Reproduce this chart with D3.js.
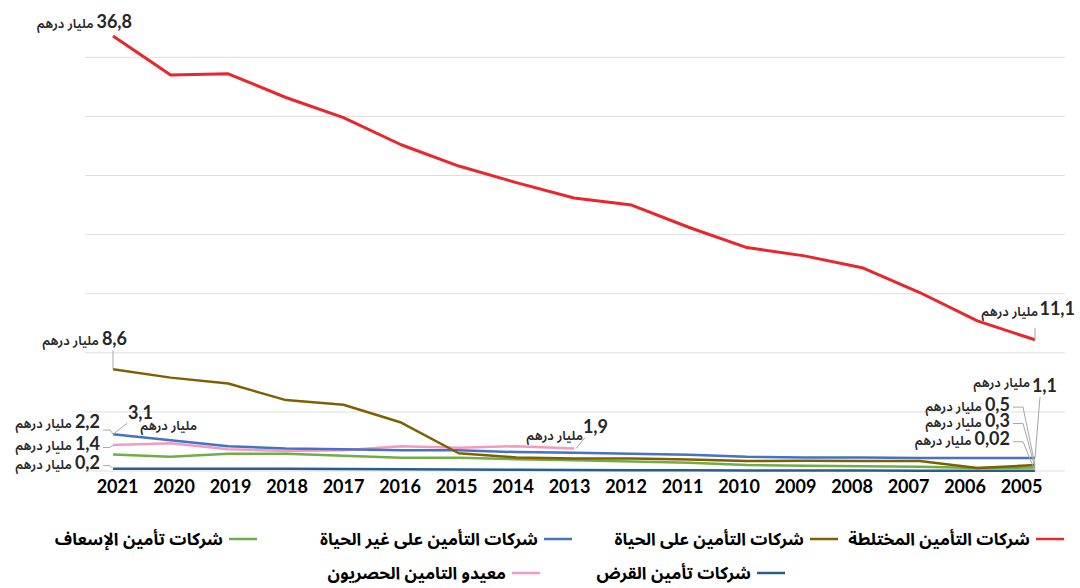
<!DOCTYPE html>
<html lang="ar">
<head>
<meta charset="UTF-8">
<title>insurance chart</title>
<script src="https://cdn.jsdelivr.net/npm/d3@7"></script>
<style>
  body { margin: 0; background: #fff; }
  svg { display: block; }
</style>
</head>
<body>
<script>
// years, left to right (reversed)
const years = [2021, 2020, 2019, 2018, 2017, 2016, 2015, 2014, 2013, 2012, 2011, 2010, 2009, 2008, 2007, 2006, 2005];

// values in billion dirhams, same order as years
const mixed   = [36.8, 33.5, 33.6, 31.6, 29.9, 27.6, 25.8, 24.4, 23.1, 22.5, 20.6, 18.9, 18.2, 17.2, 15.1, 12.7, 11.1];
const life    = [8.6, 7.9, 7.4, 6.0, 5.6, 4.1, 1.5, 1.15, 1.05, 1.05, 0.98, 0.85, 0.87, 0.85, 0.85, 0.25, 0.5];
const nonLife = [3.1, 2.6, 2.1, 1.9, 1.85, 1.75, 1.75, 1.6, 1.55, 1.45, 1.38, 1.2, 1.15, 1.15, 1.1, 1.1, 1.1];
const assist  = [1.4, 1.2, 1.45, 1.45, 1.3, 1.13, 1.13, 1.0, 0.9, 0.8, 0.7, 0.5, 0.45, 0.4, 0.35, 0.25, 0.3];
const credit  = [0.2, 0.2, 0.2, 0.18, 0.17, 0.15, 0.12, 0.1, 0.08, 0.07, 0.06, 0.05, 0.04, 0.04, 0.03, 0.03, 0.02];
const reins   = [2.2, 2.35, 1.85, 1.7, 1.75, 2.1, 1.97, 2.1, 1.9, null, null, null, null, null, null, null, null];

const gridTicks = [0, 5, 10, 15, 20, 25, 30, 35];

const series = [
  { name: "شركات التأمين المختلطة", color: "#e8262b", width: 3, values: mixed },
  { name: "شركات التأمين على الحياة", color: "#7f6000", width: 2.5, values: life },
  { name: "شركات التأمين  على غير الحياة", color: "#4472c4", width: 2.5, values: nonLife },
  { name: "شركات تأمين الإسعاف", color: "#70ad47", width: 2.5, values: assist },
  { name: "شركات تأمين القرض", color: "#255e91", width: 2.5, values: credit },
  { name: "معيدو التامين الحصريون", color: "#f49ac2", width: 2.5, values: reins }
];

// value labels: series index, year, text, offsets from the point
const unit = "مليار درهم";
const notes = [
  { s: 0, year: 2021, text: "36,8", dx: 19, dy: -8 },
  { s: 1, year: 2021, text: "8,6", dx: 14, dy: -24, lead: [[0, -19], [0, 0]] },
  { s: 2, year: 2021, text: "3,1", dx: 40, dy: -15, udx: 84, udy: -4, lead: [[14, -11], [0, 0]] },
  { s: 5, year: 2021, text: "2,2", dx: -13, dy: -17, lead: [[-10, -15], [-3, -15], [0, -11]] },
  { s: 3, year: 2021, text: "1,4", dx: -13, dy: -4, lead: [[-10, -7], [-3, -7], [0, -9]] },
  { s: 4, year: 2021, text: "0,2", dx: -13, dy: 0, lead: [[-10, -3], [-3, -3], [0, 0]] },
  { s: 5, year: 2013, text: "1,9", dx: 34, dy: -16, udx: 9, udy: -9, lead: [[11, -11], [2, 0]] },
  { s: 0, year: 2005, text: "11,1", dx: 40, dy: -25, udx: 3, udy: -24, lead: [[0, -12], [0, 0]] },
  { s: 2, year: 2005, text: "1,1", dx: 22, dy: -66, udx: -5, udy: -71, lead: [[5, -61], [0, 0]] },
  { s: 1, year: 2005, text: "0,5", dx: -25, dy: -54, lead: [[-22, -58], [-12, -58], [0, 0]] },
  { s: 3, year: 2005, text: "0,3", dx: -25, dy: -40, lead: [[-22, -44], [-12, -44], [0, 0]] },
  { s: 4, year: 2005, text: "0,02", dx: -25, dy: -26, lead: [[-22, -29], [-12, -29], [0, 0]] }
];

// legend layout: row, right end of swatch
const legendPos = [
  { row: 0, right: 1064 }, { row: 0, right: 838 }, { row: 0, right: 572 }, { row: 0, right: 257 },
  { row: 1, right: 785 }, { row: 1, right: 540 }
];

const width = 1080, height = 588;
const numFont = "Lato, 'DejaVu Sans', sans-serif";
const arFont = "'Noto Sans Arabic', 'DejaVu Sans', sans-serif";

const svg = d3.select("body").append("svg")
  .attr("width", width)
  .attr("height", height);

const x = d3.scalePoint().domain(years).range([113, 1035]);
const xLabels = d3.scalePoint().domain(years).range([117, 1021]);
const y = d3.scaleLinear().domain([0, 40]).range([471, 471 - 40 * 11.82]);

// grid
svg.append("g").selectAll("line")
  .data(gridTicks)
  .join("line")
  .attr("x1", 85).attr("x2", 1065)
  .attr("y1", d => y(d)).attr("y2", d => y(d))
  .attr("stroke", "#dedede")
  .attr("stroke-width", 1);

// year axis
const axis = svg.append("g")
  .attr("transform", `translate(0,${y(0) + 9})`)
  .call(d3.axisBottom(xLabels).tickSize(0).tickPadding(0));
axis.select(".domain").remove();
axis.selectAll("text")
  .attr("dy", "0.71em")
  .attr("font-family", numFont)
  .attr("font-weight", 700)
  .attr("font-size", 18)
  .attr("fill", "#000");

// lines
const line = d3.line()
  .defined(d => d != null)
  .x((d, i) => x(years[i]))
  .y(d => y(d));

svg.append("g").selectAll("path")
  .data(series.slice().reverse())
  .join("path")
  .attr("fill", "none")
  .attr("stroke", d => d.color)
  .attr("stroke-width", d => d.width)
  .attr("stroke-linejoin", "round")
  .attr("d", d => line(d.values));

// value labels
const noteG = svg.append("g");
notes.forEach(n => {
  const v = series[n.s].values[years.indexOf(n.year)];
  const px = x(n.year), py = y(v);
  if (n.lead) {
    noteG.append("path")
      .attr("fill", "none")
      .attr("stroke", "#a6a6a6")
      .attr("stroke-width", 1)
      .attr("d", d3.line()(n.lead.map(p => [px + p[0], py + p[1]])));
  }
  const num = noteG.append("text")
    .attr("x", px + n.dx)
    .attr("y", py + n.dy)
    .attr("text-anchor", "end")
    .attr("font-family", numFont)
    .attr("font-weight", 700)
    .attr("font-size", 18)
    .attr("fill", "#262626")
    .text(n.text);
  const w = num.node().getComputedTextLength();
  const ux = n.udx != null ? px + n.udx : px + n.dx - w - 3;
  const uy = n.udy != null ? py + n.udy : py + n.dy;
  noteG.append("text")
    .attr("x", ux)
    .attr("y", uy)
    .attr("text-anchor", "end")
    .attr("font-family", arFont)
    .attr("font-size", 13)
    .attr("font-weight", 600)
    .attr("fill", "#262626")
    .text(unit);
});

// legend
const rowY = [539, 573];
const leg = svg.append("g").selectAll("g")
  .data(series)
  .join("g")
  .attr("transform", (d, i) => `translate(${legendPos[i].right},${rowY[legendPos[i].row]})`);
leg.append("line")
  .attr("x1", -28).attr("x2", 0)
  .attr("stroke", d => d.color)
  .attr("stroke-width", 2.5);
leg.append("text")
  .attr("x", -34)
  .attr("y", 6)
  .attr("text-anchor", "end")
  .attr("font-family", arFont)
  .attr("font-weight", 700)
  .attr("font-size", 17)
  .attr("fill", "#000")
  .text(d => d.name);
</script>
</body>
</html>
